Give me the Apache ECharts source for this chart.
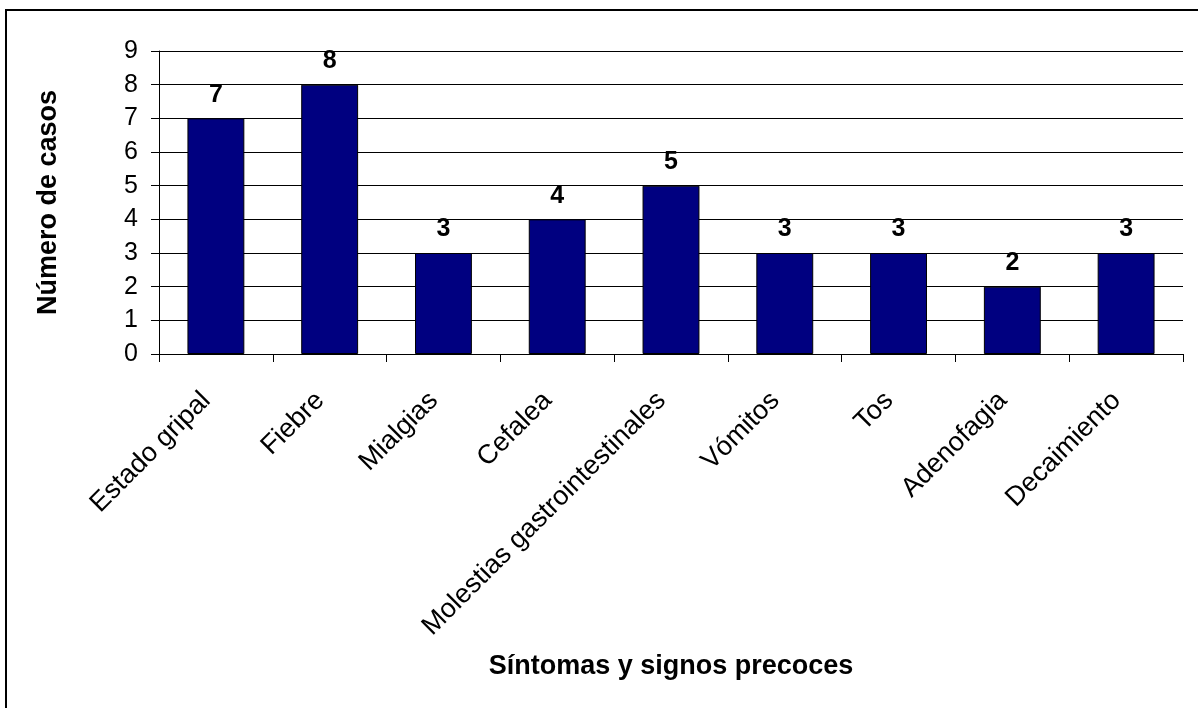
<!DOCTYPE html>
<html>
<head>
<meta charset="utf-8">
<script src="https://cdn.jsdelivr.net/npm/echarts@6/dist/echarts.min.js"></script>
<style>
  html, body { margin: 0; padding: 0; background: #fff; }
  #chart { width: 1198px; height: 708px; }
</style>
</head>
<body>
<div id="chart"></div>
<script>
// Síntomas y signos precoces: número de casos por síntoma
const categories = [
  'Estado gripal', 'Fiebre', 'Mialgias', 'Cefalea',
  'Molestias gastrointestinales', 'Vómitos', 'Tos', 'Adenofagia', 'Decaimiento'
];
const casos = [7, 8, 3, 4, 5, 3, 3, 2, 3];
const yTicks = [0, 1, 2, 3, 4, 5, 6, 7, 8, 9];

const FONT = 'Arial, "Liberation Sans", sans-serif';

const chart = echarts.init(document.getElementById('chart'), null, { renderer: 'canvas' });
chart.setOption({
  backgroundColor: '#ffffff',
  animation: false,
  graphic: [{
    type: 'rect',
    shape: { x: 6, y: 10, width: 1400, height: 900 },
    style: { fill: 'none', stroke: '#000', lineWidth: 2 },
    silent: true
  }],
  grid: { left: 159, right: 15, top: 51, bottom: 354, containLabel: false },
  xAxis: {
    type: 'category',
    data: categories,
    name: 'Síntomas y signos precoces',
    nameLocation: 'middle',
    nameGap: 299,
    nameTextStyle: { fontFamily: FONT, fontSize: 27, fontWeight: 'bold', color: '#000' },
    axisLine: { lineStyle: { color: '#000', width: 1 } },
    axisTick: { show: true, length: 8, inside: false, alignWithLabel: false, lineStyle: { color: '#000' } },
    axisLabel: {
      rotate: 45, interval: 0, margin: 52,
      align: 'right', verticalAlign: 'bottom',
      fontFamily: FONT, fontSize: 27, color: '#000'
    }
  },
  yAxis: {
    type: 'value',
    min: yTicks[0],
    max: yTicks[yTicks.length - 1],
    interval: 1,
    name: 'Número de casos',
    nameLocation: 'middle',
    nameGap: 97,
    nameRotate: 90,
    nameTextStyle: { fontFamily: FONT, fontSize: 27, fontWeight: 'bold', color: '#000' },
    axisLine: { show: true, lineStyle: { color: '#000', width: 1 } },
    axisTick: { show: true, length: 8, lineStyle: { color: '#000' } },
    axisLabel: { margin: 21, fontFamily: FONT, fontSize: 25, color: '#000' },
    splitLine: { show: true, lineStyle: { color: '#000', width: 1 } }
  },
  series: [{
    type: 'bar',
    data: casos,
    barWidth: '50%',
    itemStyle: { color: '#000080', borderColor: '#000', borderWidth: 1 },
    label: {
      show: true, position: 'top', distance: 11,
      fontFamily: FONT, fontSize: 25, fontWeight: 'bold', color: '#000'
    }
  }]
});
</script>
</body>
</html>
